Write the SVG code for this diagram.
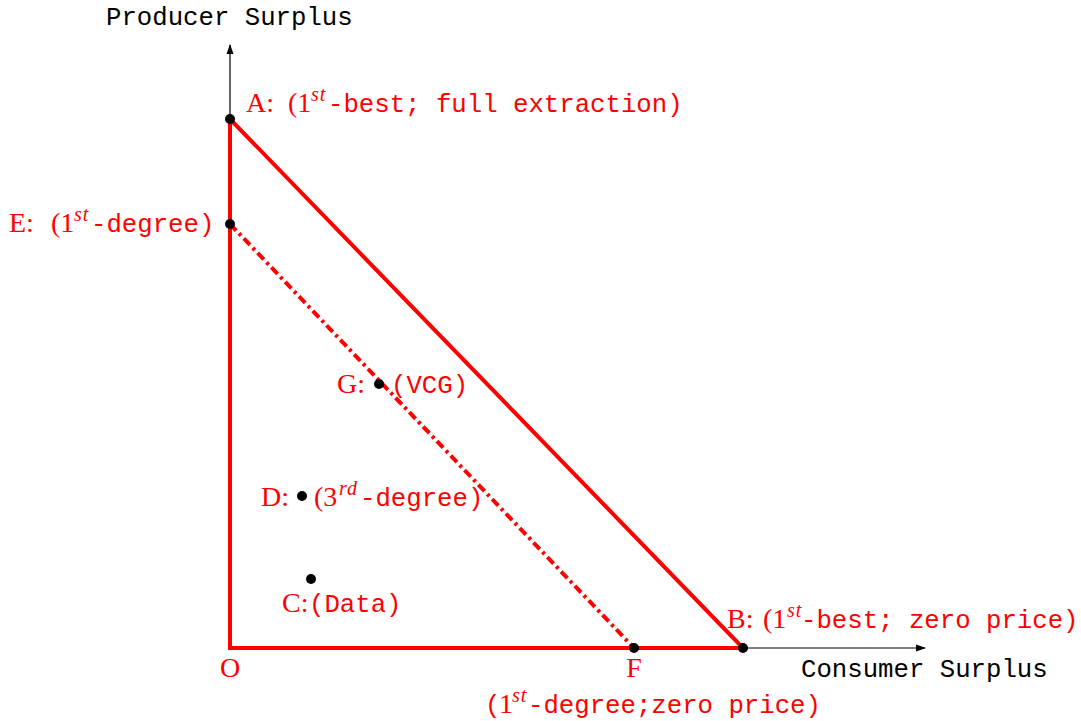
<svg xmlns="http://www.w3.org/2000/svg" width="1081" height="721" viewBox="0 0 1081 721">
<style>
.m{font-family:"Liberation Mono",monospace;font-size:25.7px}
.s{font-family:"Liberation Serif",serif;font-size:28px}
.sup{font-family:"Liberation Serif",serif;font-style:italic;font-size:20px;letter-spacing:1px}
.r{fill:#ff0000}
.k{fill:#000}
.red{stroke:#ff0000;stroke-width:4;fill:none}
</style>
<defs>
<marker id="ar" viewBox="0 0 10 10" refX="9" refY="5" markerWidth="10" markerHeight="10" markerUnits="userSpaceOnUse" orient="auto">
<path d="M0,1.5 L10,5 L0,8.5 Z" fill="#000"/>
</marker>
</defs>
<rect width="1081" height="721" fill="#fff"/>
<g id="connectors">
<line x1="230" y1="648" x2="230" y2="45" stroke="#000" stroke-width="1.2" marker-end="url(#ar)"/>
<line x1="230" y1="648" x2="925" y2="648" stroke="#000" stroke-width="1.2" marker-end="url(#ar)"/>
<path class="red" d="M230,648 L230,119 L743,648 Z"/>
<line class="red" x1="230" y1="224" x2="634" y2="648" stroke-dasharray="9 4 3 4"/>
</g>
<g id="axis-labels">
<text class="m k" x="106" y="25">Producer Surplus</text>
<text class="m k" x="801" y="677">Consumer Surplus</text>
</g>
<g id="A"><circle cx="230" cy="119" r="5" fill="#000"/>
<text class="r" y="112"><tspan class="s" x="246">A:</tspan><tspan class="s" x="288">(1</tspan><tspan class="sup" x="311" dy="-11">st</tspan><tspan class="m" x="328" dy="11">-best; full extraction)</tspan></text></g>
<g id="E"><circle cx="230" cy="224" r="5" fill="#000"/>
<text class="r" y="232"><tspan class="s" x="9">E:</tspan><tspan class="s" x="51">(1</tspan><tspan class="sup" x="74" dy="-11">st</tspan><tspan class="m" x="91" dy="11">-degree)</tspan></text></g>
<g id="G"><circle cx="379" cy="384" r="5" fill="#000"/>
<text class="r s" x="337" y="393">G:</text><text class="r m" x="391" y="393">(VCG)</text></g>
<g id="D"><circle cx="302" cy="496" r="5" fill="#000"/>
<text class="r s" x="261" y="506">D:</text><text class="r" y="506"><tspan class="s" x="314">(3</tspan><tspan class="sup" x="339" dy="-11">rd</tspan><tspan class="m" x="360" dy="11">-degree)</tspan></text></g>
<g id="C"><circle cx="311" cy="579" r="5" fill="#000"/>
<text class="r" y="612"><tspan class="s" x="282">C:</tspan><tspan class="m" x="309">(Data)</tspan></text></g>
<g id="B"><circle cx="743" cy="648" r="5" fill="#000"/>
<text class="r" y="628"><tspan class="s" x="727">B:</tspan><tspan class="s" x="763">(1</tspan><tspan class="sup" x="787" dy="-11">st</tspan><tspan class="m" x="801" dy="11">-best; zero price)</tspan></text></g>
<g id="F"><circle cx="634" cy="648" r="5" fill="#000"/>
<text class="r s" x="634" y="677" text-anchor="middle">F</text>
<text class="r" y="713"><tspan class="m" x="485">(</tspan><tspan class="s" x="499">1</tspan><tspan class="sup" x="512" dy="-11">st</tspan><tspan class="m" x="528" dy="11">-degree;zero price)</tspan></text></g>
<g id="O"><text class="r s" x="230" y="677" text-anchor="middle">O</text></g>
</svg>
